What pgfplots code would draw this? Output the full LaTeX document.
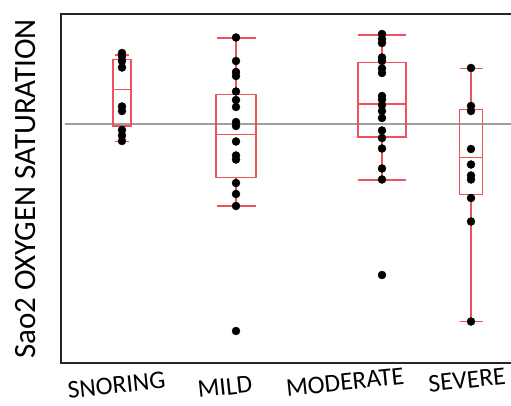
\documentclass[border=0pt]{standalone}
\usepackage{pgfplots}
\pgfplotsset{compat=1.18}
\usepgfplotslibrary{statistics}
\usepackage{fontspec}
\setmainfont{Carlito}
\definecolor{boxred}{RGB}{238,82,92}
\begin{document}
\begin{tikzpicture}
\useasboundingbox (-61pt,-42pt) rectangle (450pt,363pt);
\begin{axis}[
  at={(0pt,0pt)}, anchor=south west,
  scale only axis, width=450pt, height=349pt,
  xmin=61, xmax=511, ymin=-363, ymax=-14,
  axis lines=none, clip=false,
  boxplot/draw direction=y,
]
% frame
\draw[line width=2.2pt, black!85] (rel axis cs:1,1) -- (rel axis cs:0,1) -- (rel axis cs:0,0) -- (rel axis cs:1,0);
% reference line
\addplot[gray!75, line width=1.4pt, forget plot] coordinates {(65,-124) (511,-124)};
% boxes
\addplot[boxred, line width=1.3pt, boxplot prepared={draw position=122, lower whisker=-141.5, lower quartile=-126, median=-89.5, upper quartile=-59.5, upper whisker=-55, box extend=18, whisker extend=14}] coordinates {};
\addplot[boxred, line width=1.3pt, boxplot prepared={draw position=236, lower whisker=-206, lower quartile=-177.5, median=-134.5, upper quartile=-94.5, upper whisker=-38, box extend=40, whisker extend=39}] coordinates {};
\addplot[boxred, line width=1.3pt, boxplot prepared={draw position=382, lower whisker=-180, lower quartile=-137, median=-104, upper quartile=-62.5, upper whisker=-35, box extend=48, whisker extend=48}] coordinates {};
\addplot[boxred, line width=1.3pt, boxplot prepared={draw position=471, lower whisker=-321.5, lower quartile=-194.5, median=-157.5, upper quartile=-109.5, upper whisker=-68.5, box extend=23, whisker extend=23}] coordinates {};
% points
\addplot[only marks, mark=*, mark size=4pt, black] coordinates {
(122,-53) (122,-56.5) (122,-61) (122,-67.5) (122,-106.5) (122,-111) (122,-130) (122,-135.5) (122,-141)
};
\addplot[only marks, mark=*, mark size=4pt, black] coordinates {
(236,-37.5) (236,-61) (236,-72) (236,-76) (236,-91.5) (236,-100) (236,-107) (236,-122) (236,-126) (236,-141.5) (236,-155.5) (236,-159.5) (236,-183) (236,-194) (236,-206) (236,-331)
};
\addplot[only marks, mark=*, mark size=4pt, black] coordinates {
(382,-34) (382,-39) (382,-43) (382,-57.5) (382,-61) (382,-68.5) (382,-73) (382,-96) (382,-99.5) (382,-105) (382,-111) (382,-118) (382,-130.5) (382,-138) (382,-148.5) (382,-168.5) (382,-179.5) (382,-275)
};
\addplot[only marks, mark=*, mark size=4pt, black] coordinates {
(471,-68) (471,-106) (471,-111) (471,-149) (471,-164.5) (471,-175.5) (471,-179.5) (471,-198) (471,-221.5) (471,-321.5)
};
% labels
\node[rotate=90, anchor=base, font=\fontsize{31}{33}\selectfont, inner sep=0pt] at (axis cs:36,-189) {Sao2 OXYGEN SATURATION};
\node[rotate=6, inner sep=0pt, font=\fontsize{25.5}{27}\selectfont] at (axis cs:116.5,-385) {SNORING};
\node[rotate=6, inner sep=0pt, font=\fontsize{25.5}{27}\selectfont] at (axis cs:225,-387) {MILD};
\node[rotate=6, inner sep=0pt, font=\fontsize{25.5}{27}\selectfont] at (axis cs:345,-382) {MODERATE};
\node[rotate=6, inner sep=0pt, font=\fontsize{25.5}{27}\selectfont] at (axis cs:467,-380) {SEVERE};
\end{axis}
\end{tikzpicture}
\end{document}
